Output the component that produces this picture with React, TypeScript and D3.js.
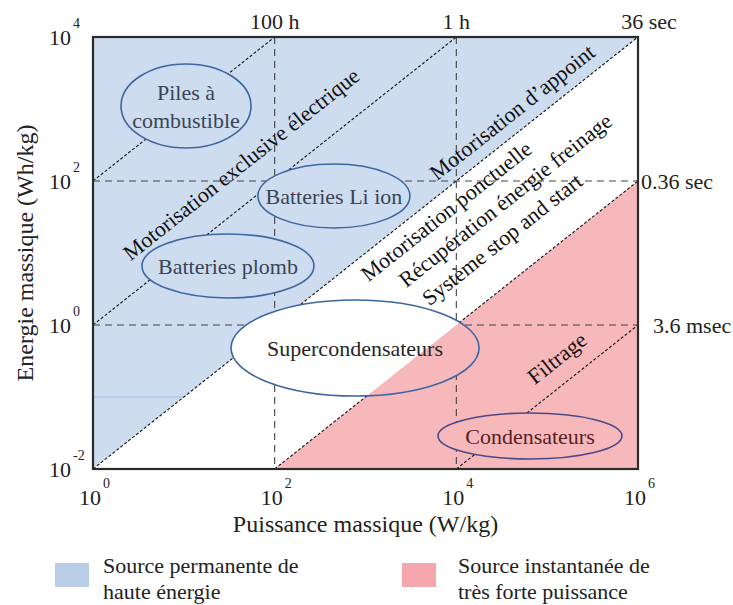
import React from "react";
import * as d3 from "d3";

// ---- data ----
const xDomain: [number, number] = [1, 1e6];
const yDomain: [number, number] = [1e-2, 1e4];
const xTickExps = [0, 2, 4, 6];
const yTickExps = [-2, 0, 2, 4];
const gridPowers = [1e2, 1e4];
const gridEnergies = [1e0, 1e2];

// constant-time lines (hours): E = P * t
const timeLines = [100, 1, 0.01, 1e-4, 1e-6];
const timeLabels = ["100 h", "1 h", "36 sec", "0.36 sec", "3.6 msec"];
const timeLabelSide = ["top", "top", "top", "right", "right"];

const blueBoundary = 0.01; // above -> high-energy sources
const pinkBoundary = 1e-4; // below -> high-power sources

const technoNames = [["Piles à", "combustible"], ["Batteries Li ion"], ["Batteries plomb"], ["Supercondensateurs"], ["Condensateurs"]];
const technoPower = [10.57, 449, 30.6, 767, 64700];
const technoEnergy = [1102, 61.9, 6.6, 0.48, 0.0287];
const technoRegion = ["blue", "blue", "blue", "white", "pink"];

const appNames = [
  "Motorisation exclusive électrique",
  "Motorisation d\u2019appoint",
  "Motorisation ponctuelle",
  "Récupération  énergie freinage",
  "Système stop and start",
  "Filtrage",
];
const appPower = [42.6, 41000, 7690, 34400, 31800, 128000];
const appEnergy = [172, 908, 38.3, 54.5, 15.6, 0.348];

const legendLabels = [["Source permanente de", "haute énergie"], ["Source instantanée de", "très forte puissance"]];

// ---- styles ----
const W = 733, H = 605;
const M = { left: 93, right: 638, top: 37, bottom: 469 };
const BLUE = "#cddcee";
const PINK = "#f7b8bc";
const FONT = '"Liberation Serif", "DejaVu Serif", serif';
const ellipseR: [number, number][] = [[65, 42], [76, 32], [86, 32], [124, 48], [92, 23]];
const TS: React.CSSProperties = { fontFamily: FONT };

export default function App() {
  const x = d3.scaleLog().domain(xDomain).range([M.left, M.right]);
  const y = d3.scaleLog().domain(yDomain).range([M.bottom, M.top]);
  const ang = (-Math.atan2(y(1) - y(10), x(10) - x(1)) * 180) / Math.PI;

  const line = d3.line<[number, number]>().x((d) => x(d[0])).y((d) => y(d[1]));
  const seg = (t: number): [number, number][] => {
    const p0 = Math.max(xDomain[0], yDomain[0] / t);
    const p1 = Math.min(xDomain[1], yDomain[1] / t);
    return [[p0, p0 * t], [p1, p1 * t]];
  };
  const bluePoly: [number, number][] = [[xDomain[0], yDomain[1]], [xDomain[1], yDomain[1]], ...seg(blueBoundary).reverse()];
  const pinkPoly: [number, number][] = [...seg(pinkBoundary), [xDomain[1], yDomain[0]]];
  const closed = (pts: [number, number][]) => line(pts) + "Z";

  const superIdx = 3;

  return (
    <svg width={W} height={H} style={{ position: "absolute", left: 0, top: 0, background: "#fff", fontFamily: FONT }}>
      <defs>
        <clipPath id="superClip">
          <ellipse cx={x(technoPower[superIdx])} cy={y(technoEnergy[superIdx])} rx={ellipseR[superIdx][0]} ry={ellipseR[superIdx][1]} />
        </clipPath>
      </defs>
      {/* regions */}
      <path d={closed(bluePoly)} fill={BLUE} />
      <path d={closed(pinkPoly)} fill={PINK} />
      <line x1={x(1)} x2={x(10)} y1={y(0.1)} y2={y(0.1)} stroke="#b3c9e6" strokeWidth={1.5} />

      {/* grid */}
      {gridPowers.map((p) => (
        <line key={"gx" + p} x1={x(p)} x2={x(p)} y1={M.top} y2={M.bottom} stroke="#444" strokeWidth={1.1} strokeDasharray="7 5" />
      ))}
      {gridEnergies.map((e) => (
        <line key={"gy" + e} x1={M.left} x2={M.right} y1={y(e)} y2={y(e)} stroke="#444" strokeWidth={1.1} strokeDasharray="7 5" />
      ))}

      {/* constant time lines */}
      {timeLines.map((t) => (
        <path key={"t" + t} d={line(seg(t)) || ""} stroke="#111" strokeWidth={1.1} strokeDasharray="3 2" fill="none" />
      ))}

      {/* technology ellipses */}
      {technoNames.map((nm, i) => {
        const cx = x(technoPower[i]);
        const cy = y(technoEnergy[i]);
        const [rx, ry] = ellipseR[i];
        const reg = technoRegion[i];
        const fill = reg === "blue" ? BLUE : reg === "pink" ? PINK : "#fff";
        const stroke = reg === "pink" ? "#4b4a86" : "#3d66a3";
        const color = reg === "pink" ? "#5a1e22" : reg === "white" ? "#262626" : "#3a4456";
        return (
          <g key={"e" + i}>
            <ellipse cx={cx} cy={cy} rx={rx} ry={ry} fill={fill} />
            {reg === "white" && <path d={closed(pinkPoly)} fill={PINK} clipPath="url(#superClip)" />}
            <ellipse cx={cx} cy={cy} rx={rx} ry={ry} fill="none" stroke={stroke} strokeWidth={1.6} />
            {nm.map((s, k) => (
              <text key={k} style={TS} x={cx} y={cy + (k - (nm.length - 1) / 2) * 28} dy="0.35em" textAnchor="middle" fontSize={22} fill={color}>
                {s}
              </text>
            ))}
          </g>
        );
      })}

      {/* application labels */}
      {appNames.map((s, i) => (
        <text
          key={"a" + i}
          style={TS}
          transform={`translate(${x(appPower[i])},${y(appEnergy[i])}) rotate(${ang})`}
          dy="0.35em"
          textAnchor="middle"
          fontSize={22}
          fill="#111"
        >
          {s}
        </text>
      ))}

      {/* frame */}
      <rect x={M.left} y={M.top} width={M.right - M.left} height={M.bottom - M.top} fill="none" stroke="#2b2b2b" strokeWidth={2.2} />

      {/* time labels */}
      {timeLines.map((t, i) => {
        const s = seg(t);
        if (timeLabelSide[i] === "top") {
          const px = x(s[1][0]);
          return (
            <text key={"tl" + i} style={TS} x={i === 2 ? px + 11 : px} y={29} textAnchor="middle" fontSize={22} fill="#222">
              {timeLabels[i]}
            </text>
          );
        }
        const py = y(s[1][1]);
        return (
          <text key={"tl" + i} style={TS} x={i === 3 ? M.right + 3 : M.right + 15} y={py + 8} fontSize={22} fill="#222">
            {timeLabels[i]}
          </text>
        );
      })}

      {/* x ticks */}
      {xTickExps.map((e) => {
        const px = x(Math.pow(10, e));
        return (
          <g key={"xt" + e} fill="#222">
            <text style={TS} x={px + 8} y={505} textAnchor="end" fontSize={22}>10</text>
            <text style={TS} x={px + 10} y={488} fontSize={14}>{e}</text>
          </g>
        );
      })}
      {/* y ticks */}
      {yTickExps.map((e) => {
        const py = y(Math.pow(10, e));
        return (
          <g key={"yt" + e} fill="#222">
            <text style={TS} x={71} y={py + 8} textAnchor="end" fontSize={22}>10</text>
            <text style={TS} x={73} y={py - 9} fontSize={14}>{e}</text>
          </g>
        );
      })}

      {/* axis titles */}
      <text style={TS} x={(M.left + M.right) / 2} y={532} textAnchor="middle" fontSize={24} fill="#222">Puissance massique (W/kg)</text>
      <text style={TS} transform={`translate(33,${(M.top + M.bottom) / 2}) rotate(-90)`} textAnchor="middle" fontSize={24} fill="#222">
        Energie massique (Wh/kg)
      </text>

      {/* legend */}
      {legendLabels.map((lines, i) => {
        const lx = i === 0 ? 55 : 402;
        return (
          <g key={"lg" + i}>
            <rect x={lx} y={563} width={34} height={24} fill={i === 0 ? "#b9cde7" : "#f4a7ac"} />
            {lines.map((s, k) => (
              <text key={k} style={TS} x={lx + 48 + (i === 1 ? 8 : 0)} y={573 + k * 26} fontSize={22} fill="#222">
                {s}
              </text>
            ))}
          </g>
        );
      })}
    </svg>
  );
}
